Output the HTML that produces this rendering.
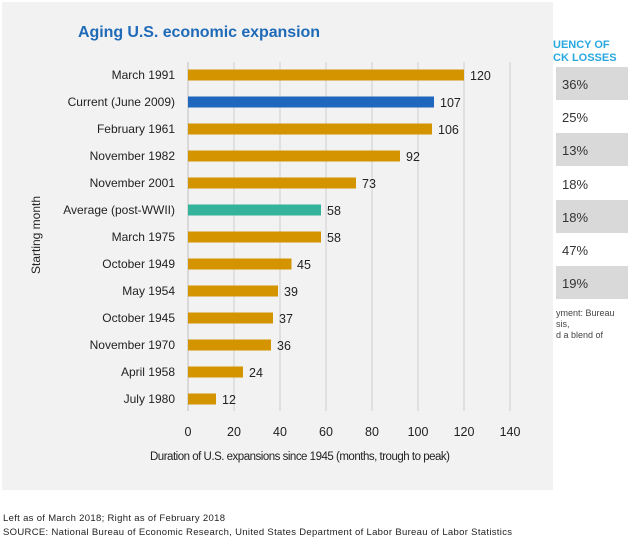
<!DOCTYPE html>
<html><head><meta charset="utf-8"><style>
html,body{margin:0;padding:0;background:#fff;}
svg{display:block;font-family:"Liberation Sans",sans-serif;}
</style></head><body>
<svg width="628" height="541" viewBox="0 0 628 541" xmlns="http://www.w3.org/2000/svg">
<rect x="2" y="2" width="551" height="488" fill="#f2f2f2"/>
<text x="78" y="37" font-size="16" font-weight="bold" fill="#1f6bb8" textLength="242">Aging U.S. economic expansion</text>
<g stroke="#cfcfcf" stroke-width="1">
<line x1="188" y1="62" x2="188" y2="411" stroke="#bdbdbd"/>
<line x1="234" y1="62" x2="234" y2="411"/>
<line x1="280" y1="62" x2="280" y2="411"/>
<line x1="326" y1="62" x2="326" y2="411"/>
<line x1="372" y1="62" x2="372" y2="411"/>
<line x1="418" y1="62" x2="418" y2="411"/>
<line x1="464" y1="62" x2="464" y2="411"/>
<line x1="510" y1="62" x2="510" y2="411"/>
</g>
<g font-size="12" fill="#222">
<g text-anchor="end">
<text x="175" y="79">March 1991</text>
<text x="175" y="106">Current (June 2009)</text>
<text x="175" y="133">February 1961</text>
<text x="175" y="160">November 1982</text>
<text x="175" y="187">November 2001</text>
<text x="175" y="214">Average (post-WWII)</text>
<text x="175" y="241">March 1975</text>
<text x="175" y="268">October 1949</text>
<text x="175" y="295">May 1954</text>
<text x="175" y="322">October 1945</text>
<text x="175" y="349">November 1970</text>
<text x="175" y="376">April 1958</text>
<text x="175" y="403">July 1980</text>
</g>
<g font-size="12.5">
<rect x="188" y="69.5" width="276" height="11" fill="#d49400"/><text x="470" y="80">120</text>
<rect x="188" y="96.5" width="246" height="11" fill="#1f67bd"/><text x="440" y="107">107</text>
<rect x="188" y="123.5" width="244" height="11" fill="#d49400"/><text x="438" y="134">106</text>
<rect x="188" y="150.5" width="212" height="11" fill="#d49400"/><text x="406" y="161">92</text>
<rect x="188" y="177.5" width="168" height="11" fill="#d49400"/><text x="362" y="188">73</text>
<rect x="188" y="204.5" width="133" height="11" fill="#33b39a"/><text x="327" y="215">58</text>
<rect x="188" y="231.5" width="133" height="11" fill="#d49400"/><text x="327" y="242">58</text>
<rect x="188" y="258.5" width="103.5" height="11" fill="#d49400"/><text x="297" y="269">45</text>
<rect x="188" y="285.5" width="90" height="11" fill="#d49400"/><text x="284" y="296">39</text>
<rect x="188" y="312.5" width="85" height="11" fill="#d49400"/><text x="279" y="323">37</text>
<rect x="188" y="339.5" width="83" height="11" fill="#d49400"/><text x="277" y="350">36</text>
<rect x="188" y="366.5" width="55" height="11" fill="#d49400"/><text x="249" y="377">24</text>
<rect x="188" y="393.5" width="28" height="11" fill="#d49400"/><text x="222" y="404">12</text>
</g>
<g text-anchor="middle" font-size="12.5">
<text x="188" y="436">0</text><text x="234" y="436">20</text><text x="280" y="436">40</text>
<text x="326" y="436">60</text><text x="372" y="436">80</text><text x="418" y="436">100</text>
<text x="464" y="436">120</text><text x="510" y="436">140</text>
</g>
<text x="150" y="460" font-size="11.5" textLength="300">Duration of U.S. expansions since 1945 (months, trough to peak)</text>
<text transform="translate(40,235) rotate(-90)" text-anchor="middle">Starting month</text>
</g>
<g font-size="11" font-weight="bold" fill="#29a8e0">
<text x="553" y="48">UENCY OF</text>
<text x="553" y="61">CK LOSSES</text>
</g>
<g fill="#d9d9d9">
<rect x="556" y="67" width="72" height="33"/>
<rect x="556" y="133" width="72" height="33"/>
<rect x="556" y="200" width="72" height="33"/>
<rect x="556" y="266" width="72" height="33"/>
</g>
<g font-size="13" fill="#333">
<text x="562" y="89">36%</text>
<text x="562" y="122">25%</text>
<text x="562" y="155">13%</text>
<text x="562" y="189">18%</text>
<text x="562" y="222">18%</text>
<text x="562" y="255">47%</text>
<text x="562" y="288">19%</text>
</g>
<g font-size="9" fill="#444">
<text x="556" y="316">yment: Bureau</text>
<text x="556" y="327">sis,</text>
<text x="556" y="338">d a blend of</text>
</g>
<g font-size="9.5" fill="#222">
<text x="3" y="521" textLength="222">Left as of March 2018; Right as of February 2018</text>
<text x="3" y="535" textLength="509">SOURCE: National Bureau of Economic Research, United States Department of Labor Bureau of Labor Statistics</text>
</g>
</svg>
</body></html>
